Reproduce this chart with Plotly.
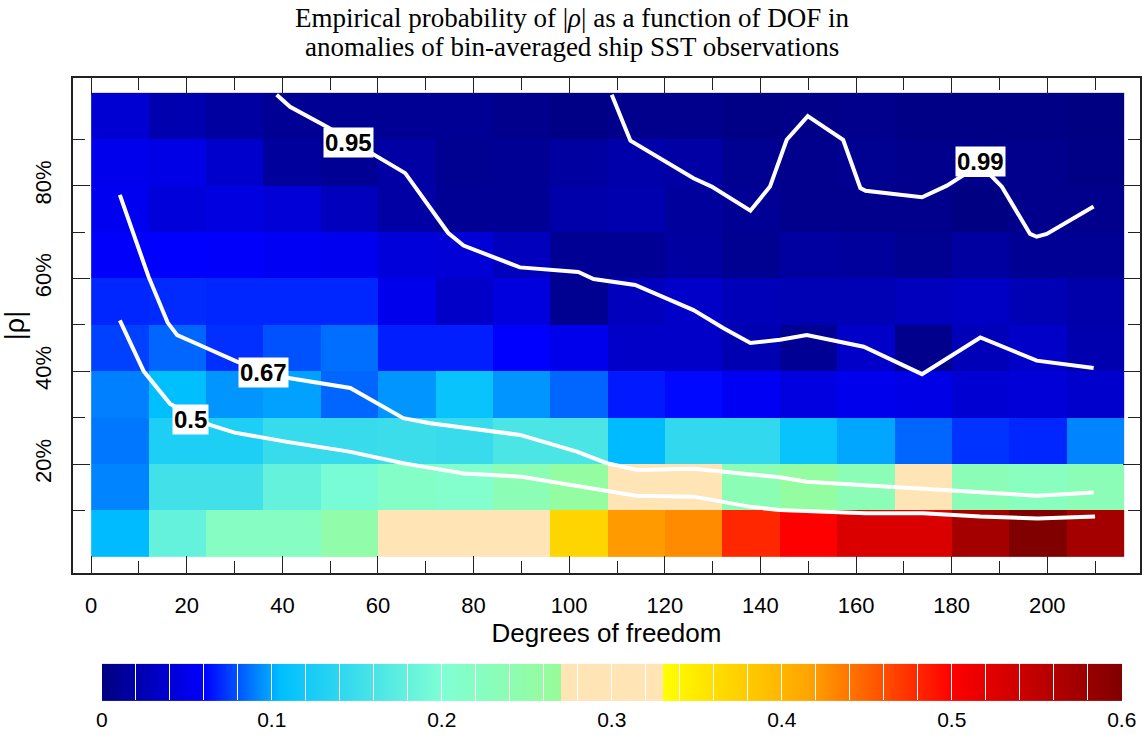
import plotly.graph_objects as go

# ---------------- data ----------------
dof_centers = [6, 18, 30, 42, 54, 66, 78, 90, 102, 114, 126, 138, 150, 162, 174, 186, 198, 210]
rho_centers = [5, 15, 25, 35, 45, 55, 65, 75, 85, 95]

# empirical probability, rows from |rho| 0-10% (bottom) to 90-100% (top)
prob_r0 = [0.104, 0.18, 0.22, 0.22, 0.25, 0.30, 0.30, 0.30, 0.37, 0.42, 0.428, 0.48, 0.50, 0.528, 0.528, 0.571, 0.60, 0.571]
prob_r1 = [0.091, 0.154, 0.154, 0.18, 0.195, 0.215, 0.208, 0.237, 0.26, 0.30, 0.30, 0.237, 0.26, 0.235, 0.30, 0.235, 0.225, 0.235]
prob_r2 = [0.088, 0.127, 0.127, 0.146, 0.146, 0.15, 0.146, 0.161, 0.161, 0.104, 0.142, 0.142, 0.112, 0.099, 0.084, 0.072, 0.069, 0.091]
prob_r3 = [0.09, 0.105, 0.095, 0.098, 0.084, 0.095, 0.112, 0.095, 0.084, 0.066, 0.062, 0.055, 0.046, 0.051, 0.048, 0.039, 0.041, 0.036]
prob_r4 = [0.075, 0.084, 0.071, 0.079, 0.086, 0.067, 0.067, 0.06, 0.051, 0.034, 0.034, 0.024, 0.010, 0.034, 0.006, 0.027, 0.034, 0.022]
prob_r5 = [0.069, 0.07, 0.069, 0.069, 0.069, 0.051, 0.034, 0.045, 0.008, 0.029, 0.034, 0.027, 0.025, 0.025, 0.029, 0.032, 0.025, 0.02]
prob_r6 = [0.058, 0.06, 0.058, 0.055, 0.053, 0.043, 0.041, 0.029, 0.010, 0.010, 0.015, 0.008, 0.015, 0.013, 0.008, 0.015, 0.010, 0.010]
prob_r7 = [0.053, 0.043, 0.046, 0.041, 0.029, 0.017, 0.010, 0.010, 0.020, 0.022, 0.013, 0.010, 0.006, 0.006, 0.006, 0.001, 0.006, 0.006]
prob_r8 = [0.051, 0.048, 0.036, 0.013, 0.010, 0.017, 0.008, 0.010, 0.015, 0.020, 0.017, 0.008, 0.006, 0.008, 0.006, 0.006, 0.006, 0.003]
prob_r9 = [0.039, 0.022, 0.015, 0.010, 0.010, 0.010, 0.010, 0.006, 0.003, 0.006, 0.006, 0.003, 0.004, 0.006, 0.003, 0.003, 0.003, 0.001]
prob_rows = [prob_r0, prob_r1, prob_r2, prob_r3, prob_r4, prob_r5, prob_r6, prob_r7, prob_r8, prob_r9]

# cumulative-probability contours (DOF, |rho| %)
c050_x = [6, 11, 16.5, 25, 30, 41, 54, 65.3, 70.9, 78, 90, 108, 114, 126, 138, 144, 162, 174, 186, 198, 210]
c050_y = [51, 40, 33, 28.4, 26.8, 24.8, 22.7, 20.2, 19.2, 18, 17.3, 14.1, 13.2, 13, 10.8, 10.1, 9.4, 9.4, 8.7, 8.3, 8.7]
c067_x = [6, 12, 16, 18, 23.5, 30.5, 41.6, 54.2, 65.3, 70.9, 89.7, 101.6, 107.9, 114.2, 126, 137.9, 144, 149.7, 161.6, 173.4, 186, 197.8, 209.7]
c067_y = [78, 60.4, 50.5, 47.8, 45.3, 42.1, 38.5, 36.4, 29.9, 28.8, 26.3, 22.7, 20.2, 18.75, 19.0, 17.7, 17.2, 16.2, 15.5, 14.8, 14.1, 13.2, 13.9]
c095_x = [38.8, 41.6, 49.3, 59.4, 65.7, 74.7, 77.9, 89.7, 101.9, 105.1, 113.8, 126, 132.3, 137.9, 144.1, 149.7, 161.6, 173.8, 186, 197.8, 209.7]
c095_y = [99.6, 97, 92.7, 86.6, 82.7, 69.8, 67.1, 62.4, 61.4, 59.9, 58.6, 53.2, 49.3, 46.1, 46.8, 47.8, 45.3, 39.4, 47.3, 42.3, 40.7]
c099_x = [108.9, 112.8, 126, 129.8, 137.9, 142, 145.5, 149.9, 157.3, 160.9, 162, 173.8, 179, 182.5, 188.1, 190.5, 196.4, 197.8, 199.9, 209.7]
c099_y = [99.6, 89.7, 81.6, 79.8, 74.6, 79.8, 89.9, 95.0, 89.9, 79.5, 78.9, 77.5, 80.0, 82.3, 82.3, 79.8, 69.6, 69.0, 69.6, 75.5]

contour_labels = ["0.5", "0.67", "0.95", "0.99"]
label_x = [20.7, 36.0, 53.8, 186.1]
label_y = [29.6, 39.8, 89.3, 85.2]

cbar_vals = [i * 0.02 for i in range(31)]
cbar_labels = ["0", "0.1", "0.2", "0.3", "0.4", "0.5", "0.6"]

title_lines = ["Empirical probability of |<i>ρ</i>| as a function of DOF in",
               "anomalies of bin-averaged ship SST observations"]

# ---------------- figure ----------------
colorscale = [
    [0.0, "#000080"],
    [0.10, "#0000FF"],
    [0.175, "#00BFFF"],
    [0.3333, "#7FFFD4"],
    [0.45, "#98FB98"],
    [0.45, "#FFE4B5"],
    [0.55, "#FFE4B5"],
    [0.55, "#FFFF00"],
    [0.6917, "#FFA500"],
    [0.8333, "#FF0000"],
    [1.0, "#800000"],
]

ticktext = []
for v in cbar_vals:
    k = round(v * 10, 6)
    if abs(k - round(k)) < 1e-6:
        ticktext.append(cbar_labels[int(round(k))])
    else:
        ticktext.append("")

fig = go.Figure()
fig.add_trace(go.Heatmap(
    x=dof_centers, y=rho_centers, z=prob_rows,
    zmin=0, zmax=0.6, colorscale=colorscale,
    hoverinfo="skip",
    colorbar=dict(
        orientation="h",
        x=0.5049, xanchor="center", xref="paper",
        y=-0.289, yanchor="middle", yref="paper",
        len=1020, lenmode="pixels",
        thickness=37, thicknessmode="pixels",
        outlinewidth=0, xpad=0, ypad=0,
        tickmode="array", tickvals=cbar_vals, ticktext=ticktext,
        ticks="inside", ticklen=37, tickcolor="white", tickwidth=1,
        tickfont=dict(family="Liberation Sans", size=21, color="black"),
    ),
))

for cx, cy in [(c050_x, c050_y), (c067_x, c067_y), (c095_x, c095_y), (c099_x, c099_y)]:
    fig.add_trace(go.Scatter(x=cx, y=cy, mode="lines",
                             line=dict(color="white", width=4),
                             hoverinfo="skip", showlegend=False))

for t, lx, ly in zip(contour_labels, label_x, label_y):
    fig.add_annotation(x=lx, y=ly, text="<b>" + t + "</b>", showarrow=False,
                       bgcolor="white", borderpad=1,
                       font=dict(family="Liberation Sans", size=24, color="black"))

# two-line title, centred on the page
for line, ypix in zip(title_lines, [18, 47]):
    fig.add_annotation(x=(572 - 73) / 1067, xref="paper", y=(573 - ypix) / 495, yref="paper",
                       text=line, showarrow=False, xanchor="center", yanchor="middle",
                       font=dict(family="Liberation Serif", size=27, color="black"))

axis_font = dict(family="Liberation Sans", size=22, color="black")
fig.update_layout(
    width=1145, height=740,
    margin=dict(l=73, r=5, t=78, b=167, autoexpand=False),
    paper_bgcolor="white", plot_bgcolor="white",
    showlegend=False,
    xaxis=dict(
        range=[-3.8, 219.4], showgrid=False, zeroline=False,
        showline=True, linecolor="#222", linewidth=1.5, mirror="ticks",
        ticks="inside", ticklen=17, tickwidth=1, tickcolor="#222",
        tick0=0, dtick=20, tickfont=axis_font, ticklabelstandoff=12,
        minor=dict(ticks="inside", ticklen=12, tickwidth=1, tickcolor="#222", dtick=10, tick0=0),
        title=dict(text="Degrees of freedom", font=dict(family="Liberation Sans", size=26, color="black"), standoff=7),
    ),
    yaxis=dict(
        range=[-3.45, 103.2], showgrid=False, zeroline=False,
        showline=True, linecolor="#222", linewidth=1.5, mirror="ticks",
        ticks="inside", ticklen=17, tickwidth=1, tickcolor="#222",
        tickmode="array", tickvals=[20, 40, 60, 80], ticktext=["20%", "40%", "60%", "80%"],
        tickangle=-90, tickfont=axis_font, ticklabelstandoff=11,
        minor=dict(ticks="inside", ticklen=12, tickwidth=1, tickcolor="#222",
                   tickmode="array", tickvals=[10, 30, 50, 70, 90]),
        title=dict(text="|ρ|", font=dict(family="Liberation Sans", size=27, color="black"), standoff=6),
    ),
)

fig.write_html("out.html", config={"displayModeBar": False},
               post_script="document.body.style.margin='0px';document.body.style.overflow='hidden';")
